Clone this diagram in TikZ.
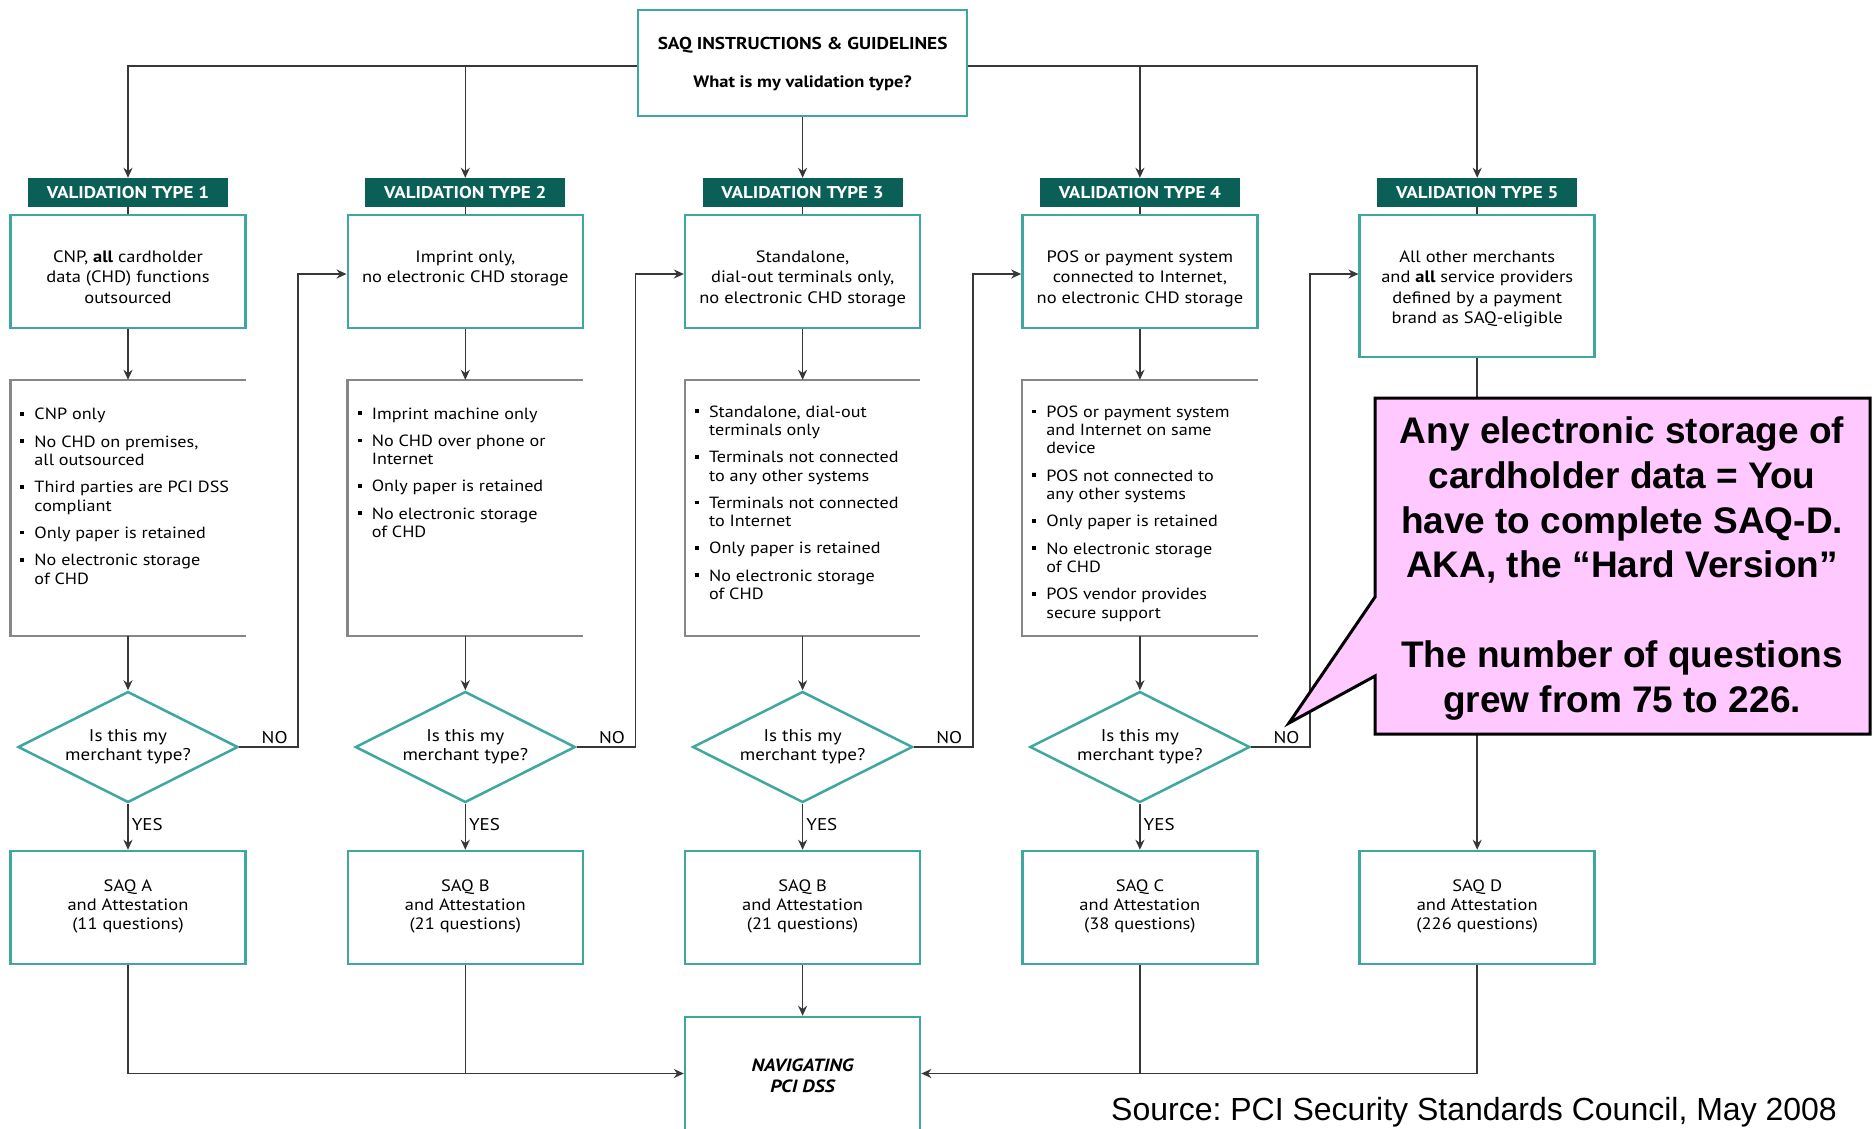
\documentclass[tikz,border=0pt]{standalone}
\usepackage{fontspec}
\setmainfont{PT Sans}[FakeStretch=1.12]
\newfontfamily\helv{Liberation Sans}
\usetikzlibrary{arrows.meta,shapes.geometric,calc}
\frenchspacing

\definecolor{tealline}{RGB}{62,168,158}
\definecolor{tealfill}{RGB}{10,96,86}
\definecolor{listgray}{RGB}{135,135,135}
\definecolor{linkgray}{RGB}{55,55,55}
\definecolor{notepink}{RGB}{255,200,255}

% column centres
\newcommand\colA{128}
\newcommand\colB{465.3}
\newcommand\colC{802.6}
\newcommand\colD{1139.9}
\newcommand\colE{1477.2}

% bullet list helpers (small square bullets)
\newcommand\itm{\makebox[15pt][l]{\hspace{1pt}\raisebox{4pt}{\rule{3.8pt}{3.8pt}}}}
\newcommand\cnt{\hspace*{15pt}}

\begin{document}
\begin{tikzpicture}[x=1pt,y=-1pt,
  tealbox/.style={draw=tealline, line width=2.5pt, fill=white, minimum width=235pt, minimum height=113pt, inner sep=0pt},
  typetag/.style={fill=tealfill, text=white, font=\bfseries\fontsize{17}{18}\selectfont, minimum width=200pt, minimum height=29pt, inner sep=0pt},
  desctext/.style={align=center, font=\fontsize{16.5}{20.5}\selectfont, inner sep=0pt, anchor=base},
  listarea/.style={minimum width=235pt, minimum height=256pt, inner sep=0pt},
  listframe/.style={draw=listgray, line width=2.5pt},
  listtext/.style={align=left, font=\fontsize{16.2}{18.3}\selectfont, inner sep=0pt, anchor=base west},
  question/.style={diamond, aspect=2, draw=tealline, line width=2.5pt, fill=white, minimum width=220pt, minimum height=111pt, inner sep=0pt, align=center, font=\fontsize{17}{19}\selectfont},
  link/.style={draw=linkgray, line width=1.6pt},
  arrow/.style={link, -{Stealth[length=10pt, width=9pt]}},
  answer/.style={font=\fontsize{17}{18}\selectfont, inner sep=0pt},
  saqtext/.style={align=center, font=\fontsize{16.5}{19}\selectfont, inner sep=0pt, anchor=base}
]
\fill[white] (0,0) rectangle (1873,1128);
\useasboundingbox (0,0) rectangle (1873,1128);

% ---------- top box ----------
\node[tealbox, minimum width=329pt, minimum height=106pt] (top) at (\colC,63) {};
\node[inner sep=0pt, anchor=base, font=\bfseries\fontsize{17.2}{20}\selectfont] (toptitle) at (\colC,49) {SAQ INSTRUCTIONS \& GUIDELINES};
\node[inner sep=0pt, anchor=base, font=\bfseries\fontsize{16.5}{20}\selectfont] (topq) at (\colC,87) {What is my validation type?};

% ---------- validation type tags ----------
\node[typetag] (tag1) at (\colA,192.5) {VALIDATION TYPE 1};
\node[typetag] (tag2) at (\colB,192.5) {VALIDATION TYPE 2};
\node[typetag] (tag3) at (\colC,192.5) {VALIDATION TYPE 3};
\node[typetag] (tag4) at (\colD,192.5) {VALIDATION TYPE 4};
\node[typetag] (tag5) at (\colE,192.5) {VALIDATION TYPE 5};

% branches from the top box
\coordinate (rail) at (0,66);
\draw[arrow] (top.west |- rail) -| (tag1.north);
\draw[arrow] (tag2.north |- rail) -- (tag2.north);
\draw[arrow] (top.south) -- (tag3.north);
\draw[arrow] (tag4.north |- rail) -- (tag4.north);
\draw[arrow] (top.east |- rail) -| (tag5.north);

% ---------- description boxes ----------
\node[tealbox] (desc1) at (\colA,271.5) {};
\node[tealbox] (desc2) at (\colB,271.5) {};
\node[tealbox] (desc3) at (\colC,271.5) {};
\node[tealbox] (desc4) at (\colD,271.5) {};
\node[tealbox, minimum height=142pt] (desc5) at (\colE,286) {};

% anchored on the baseline of the last line
\node[desctext] (desc1t) at (\colA,303) {CNP, \textbf{all} cardholder\\data (CHD) functions\\outsourced};
\node[desctext] (desc2t) at (\colB,282.5) {Imprint only,\\no electronic CHD storage};
\node[desctext] (desc3t) at (\colC,303) {Standalone,\\dial-out terminals only,\\no electronic CHD storage};
\node[desctext] (desc4t) at (\colD,303) {POS or payment system\\connected to Internet,\\no electronic CHD storage};
\node[desctext] (desc5t) at (\colE,323.5) {All other merchants\\and \textbf{all} service providers\\defined by a payment\\brand as SAQ-eligible};

\foreach \i in {1,...,5} { \draw[link] (tag\i.south) -- (desc\i.north); }

% ---------- criteria lists (open on the right) ----------
\node[listarea] (list1) at (\colA,508) {};
\node[listarea] (list2) at (\colB,508) {};
\node[listarea] (list3) at (\colC,508) {};
\node[listarea] (list4) at (\colD,508) {};
\foreach \i in {1,...,4} {
  \draw[listframe] (list\i.north east) -- (list\i.north west) -- (list\i.south west) -- (list\i.south east);
  \draw[arrow] (desc\i.south) -- (list\i.north);
}

\node[listtext] (list1t) at ($(list1.west |- 0,584)+(9,0)$) {%
\itm CNP only\\[9pt]
\itm No CHD on premises,\\ \cnt all outsourced\\[9pt]
\itm Third parties are PCI DSS\\ \cnt compliant\\[9pt]
\itm Only paper is retained\\[9pt]
\itm No electronic storage\\ \cnt of CHD};
\node[listtext] (list2t) at ($(list2.west |- 0,537.5)+(9,0)$) {%
\itm Imprint machine only\\[9pt]
\itm No CHD over phone or\\ \cnt Internet\\[9pt]
\itm Only paper is retained\\[9pt]
\itm No electronic storage\\ \cnt of CHD};
\node[listtext] (list3t) at ($(list3.west |- 0,599.5)+(9,0)$) {%
\itm Standalone, dial-out\\ \cnt terminals only\\[9pt]
\itm Terminals not connected\\ \cnt to any other systems\\[9pt]
\itm Terminals not connected\\ \cnt to Internet\\[9pt]
\itm Only paper is retained\\[9pt]
\itm No electronic storage\\ \cnt of CHD};
\node[listtext] (list4t) at ($(list4.west |- 0,618)+(9,0)$) {%
\itm POS or payment system\\ \cnt and Internet on same\\ \cnt device\\[9pt]
\itm POS not connected to\\ \cnt any other systems\\[9pt]
\itm Only paper is retained\\[9pt]
\itm No electronic storage\\ \cnt of CHD\\[9pt]
\itm POS vendor provides\\ \cnt secure support};

% ---------- decisions ----------
\node[question] (q1) at (\colA,747) {Is this my\\merchant type?};
\node[question] (q2) at (\colB,747) {Is this my\\merchant type?};
\node[question] (q3) at (\colC,747) {Is this my\\merchant type?};
\node[question] (q4) at (\colD,747) {Is this my\\merchant type?};
\foreach \i in {1,...,4} { \draw[arrow] (list\i.south) -- (q\i.north); }

\coordinate (nolevel) at (0,274);
\foreach \i/\j in {1/2,2/3,3/4,4/5} {
  \draw[arrow] (q\i.east) -- node[answer, pos=0.6, anchor=base, yshift=4pt] {NO} ++(59,0) |- (desc\j.west |- nolevel);
}

% ---------- SAQ results ----------
\node[tealbox] (saqA) at (\colA,907.5) {};
\node[tealbox] (saqB) at (\colB,907.5) {};
\node[tealbox] (saqBb) at (\colC,907.5) {};
\node[tealbox] (saqC) at (\colD,907.5) {};
\node[tealbox] (saqD) at (\colE,907.5) {};
\node[saqtext] (saqAt) at (\colA,929) {SAQ A\\and Attestation\\(11 questions)};
\node[saqtext] (saqBt) at (\colB,929) {SAQ B\\and Attestation\\(21 questions)};
\node[saqtext] (saqBbt) at (\colC,929) {SAQ B\\and Attestation\\(21 questions)};
\node[saqtext] (saqCt) at (\colD,929) {SAQ C\\and Attestation\\(38 questions)};
\node[saqtext] (saqDt) at (\colE,929) {SAQ D\\and Attestation\\(226 questions)};

\draw[arrow] (q1.south) -- node[answer, right, xshift=3pt, pos=0.45] {YES} (saqA.north);
\draw[arrow] (q2.south) -- node[answer, right, xshift=3pt, pos=0.45] {YES} (saqB.north);
\draw[arrow] (q3.south) -- node[answer, right, xshift=3pt, pos=0.45] {YES} (saqBb.north);
\draw[arrow] (q4.south) -- node[answer, right, xshift=3pt, pos=0.45] {YES} (saqC.north);
\draw[arrow] (desc5.south) -- (saqD.north);

% ---------- final box ----------
\node[tealbox] (nav) at (\colC,1073.5) {};
\node[align=center, inner sep=0pt, font=\bfseries\itshape\fontsize{17.7}{21}\selectfont] (navt) at (\colC,1076) {NAVIGATING\\PCI DSS};

\draw[arrow] (saqA.south) |- (nav.west);
\draw[link] (saqB.south) -- (saqB.south |- nav.west);
\draw[arrow] (saqBb.south) -- (nav.north);
\draw[arrow] (saqD.south) |- (nav.east);
\draw[link] (saqC.south) -- (saqC.south |- nav.east);

% ---------- note ----------
\coordinate (tip) at (1289,723);
\draw[line width=3pt, fill=notepink, line join=miter] (1375,398) -- (1870,398) -- (1870,734) -- (1375,734) -- (1375,676) -- (tip) -- (1375,597) -- cycle;
\node[align=center, inner sep=0pt, anchor=base, font=\helv\bfseries\fontsize{37}{44.7}\selectfont] (note) at (1622,712) {Any electronic storage of\\cardholder data = You\\have to complete SAQ-D.\\AKA, the “Hard Version”\\[44.7pt]The number of questions\\grew from 75 to 226.};

% ---------- source ----------
\node[anchor=base west, inner sep=0pt, font=\helv\fontsize{32}{36}\selectfont] (source) at (1111,1120) {Source: PCI Security Standards Council, May 2008};
\end{tikzpicture}
\end{document}
